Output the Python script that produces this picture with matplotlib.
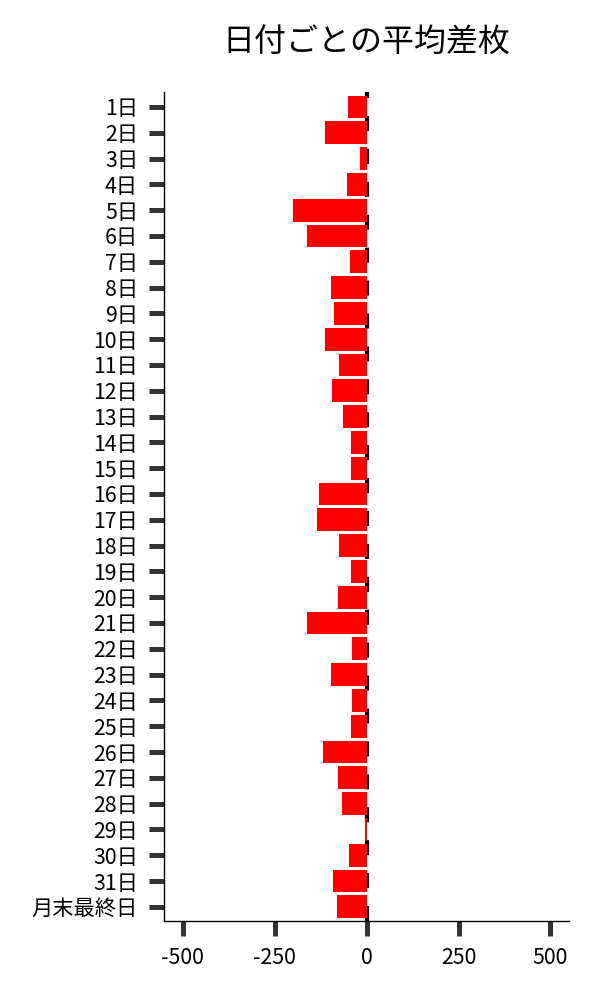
import matplotlib
matplotlib.use("Agg")
import matplotlib.pyplot as plt

plt.rcParams['font.family'] = ['Noto Sans CJK JP', 'DejaVu Sans']
plt.rcParams['axes.unicode_minus'] = False

# 日付ごとの平均差枚
days = [f"{d}日" for d in range(1, 32)] + ["月末最終日"]
avg_diff = [-50, -113, -18, -53, -201, -162, -45, -97,
            -89, -113, -75, -94, -64, -43, -43, -130,
            -135, -75, -43, -78, -162, -40, -97, -40,
            -43, -119, -78, -67, -3, -48, -91, -81]
x_ticks = [-500, -250, 0, 250, 500]

fig = plt.figure(figsize=(6, 10), dpi=100)
ax = fig.add_axes([0.274, 0.079, 0.674, 0.829])

pos = list(range(len(days)))
ax.axvline(0, color='black', linewidth=3, dashes=(3.6, 4.3), zorder=1)
ax.barh(pos, avg_diff, height=0.88, color='#ff0000', zorder=2)

ax.set_yticks(pos)
ax.set_yticklabels(days)
ax.set_ylim(len(days) - 0.45, -0.58)
ax.set_xticks(x_ticks)
ax.set_xticklabels([str(v) for v in x_ticks])
ax.set_xlim(-550, 550)

ax.tick_params(axis='both', length=11, width=3.6, color='#333333',
               labelsize=15.3, pad=8, direction='out')
for side in ['top', 'right']:
    ax.spines[side].set_visible(False)
for side in ['left', 'bottom']:
    ax.spines[side].set_linewidth(1)
    ax.spines[side].set_color('black')

fig.text(0.611, 0.957, "日付ごとの平均差枚", ha='center', va='center', fontsize=23)

fig.savefig("out.png", dpi=100)
